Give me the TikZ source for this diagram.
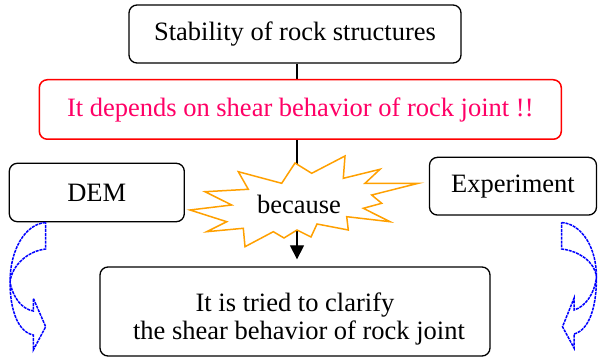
\documentclass[tikz,border=0pt]{standalone}
\usepackage{fontspec}
\setmainfont{Liberation Serif}
\usetikzlibrary{arrows.meta,backgrounds}
\definecolor{orng}{RGB}{255,160,0}
\definecolor{pinkred}{RGB}{255,0,102}
\definecolor{bluearr}{RGB}{0,0,255}
\begin{document}
\begin{tikzpicture}[x=1pt,y=-1pt,
  font=\fontsize{26.5}{28.5}\selectfont,
  box/.style={draw, rounded corners=8pt, line width=1.3pt, fill=white, inner sep=0pt},
  burst/.style={draw=orng, fill=white, line width=1.5pt, line join=miter},
  curvarrow/.style={draw=bluearr, line width=1.5pt, dash pattern=on 3pt off 0.9pt},
  link/.style={line width=1.3pt, -{Triangle[length=14pt,width=14pt]}}]
\useasboundingbox (0,0) rectangle (598,358);

\node[box, minimum width=332pt, minimum height=58pt] (top) at (295,34) {Stability of rock structures};
\node[box, draw=red, text=pinkred, line width=1.5pt, minimum width=522pt, minimum height=59.5pt] (dep) at (300.3,109.5) {It depends on shear behavior of rock joint !!};
\node[box, minimum width=175pt, minimum height=58.4pt] (dem) at (96.8,192.5) {DEM};
\node[box, minimum width=167pt, minimum height=57.7pt] (exp) at (513,186.2) {Experiment};
\node[box, minimum width=390pt, minimum height=89pt, align=center] (res) at (295,311.5)
  {\rule{0pt}{34pt}It is tried to clarify\hspace{8pt}\\\hspace{8pt}the shear behavior of rock joint};

% explosion
\path[burst] (295,163) -- (311.7,173.3) -- (345,156) -- (343.3,178.3) -- (380,169.3)
  -- (365,183.3) -- (418.3,183.3) -- (371.7,195) -- (381.7,203.3) -- (363.3,208.3)
  -- (390,221.7) -- (346.7,216.7) -- (348.3,230) -- (317,224) -- (311,237) -- (297,230)
  -- (284,238) -- (273.3,231.7) -- (245,246.7) -- (243.3,228.3) -- (206.7,231.7)
  -- (226.7,221.7) -- (190,210) -- (231.7,205) -- (205,191.7) -- (248.3,189.3)
  -- (238.3,171.7) -- (281.7,183.3) -- cycle;
\node[inner sep=0pt] (bec) at (299,204) {because};

\coordinate (lx) at (297,0);
\begin{pgfonlayer}{background}
\draw[link, shorten >=7pt] (top.south -| lx) -- (res.north -| lx);
\end{pgfonlayer}

% left curved arrow
\path[curvarrow] (45.7,222.5) .. controls (25,224) and (10,250) .. (10,282)
  .. controls (10,310) and (18,332) .. (33.3,335) -- (33.3,350) -- (45.7,326.7)
  -- (33.3,298.3) -- (33.3,311) .. controls (22,309) and (13,298) .. (10,282)
  .. controls (12,265) and (28,251) .. (45.7,249) -- cycle;

% right curved arrow
\path[curvarrow] (561.7,222.5) .. controls (582,224) and (596.5,248) .. (596.5,277)
  .. controls (596.5,308) and (589,330) .. (574,334) -- (574,348) -- (562.5,326.7)
  -- (574,298.3) -- (574,310) .. controls (585,307) and (594.5,294) .. (596.5,277)
  .. controls (595,262) and (579,251) .. (561.7,249) -- cycle;
\end{tikzpicture}
\end{document}
